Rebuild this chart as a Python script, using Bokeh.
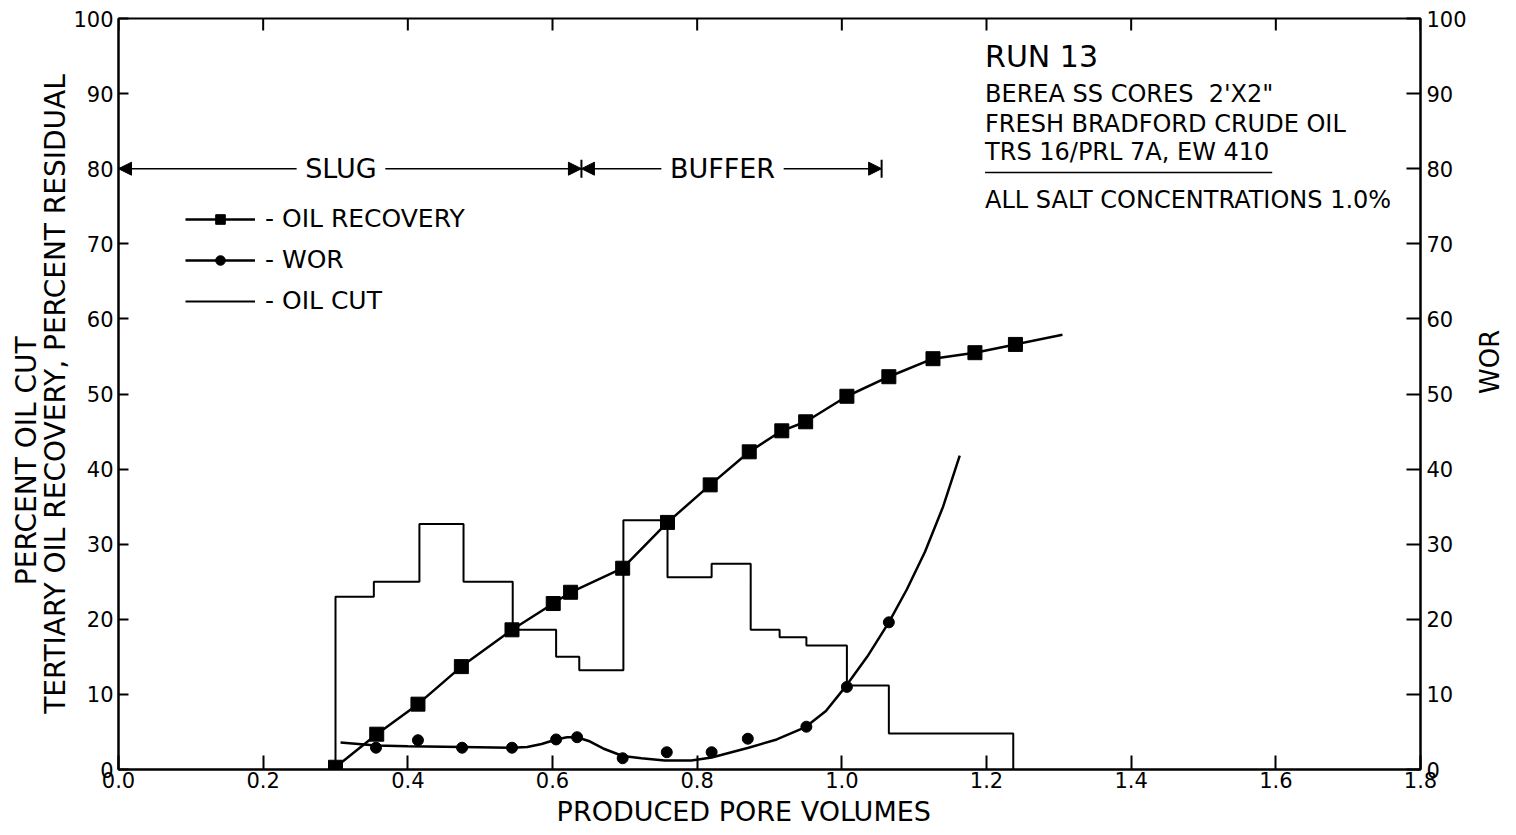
import math
from bokeh.plotting import figure
from bokeh.models import (Range1d, LinearAxis, FixedTicker, Label, Arrow, NormalHead,
                          Legend, LegendItem)
from bokeh.embed import file_html
from bokeh.resources import INLINE

# ---------------- data ----------------
x_ticks = [0.0, 0.2, 0.4, 0.6, 0.8, 1.0, 1.2, 1.4, 1.6, 1.8]
x_tick_labels = ["0.0", "0.2", "0.4", "0.6", "0.8", "1.0", "1.2", "1.4", "1.6", "1.8"]
y_ticks = [0, 10, 20, 30, 40, 50, 60, 70, 80, 90, 100]

# Oil recovery (left axis, % residual)
rec_x = [0.300, 0.357, 0.414, 0.474, 0.544, 0.601, 0.625, 0.697, 0.759, 0.818,
         0.872, 0.917, 0.950, 1.007, 1.065, 1.126, 1.184, 1.240]
rec_y = [0.3, 4.7, 8.7, 13.7, 18.6, 22.1, 23.6, 26.8, 32.9, 37.9,
         42.3, 45.1, 46.3, 49.7, 52.3, 54.7, 55.5, 56.6]
rec_curve_end_x = [1.305]
rec_curve_end_y = [57.9]

# WOR (right axis)
wor_x = [0.356, 0.414, 0.475, 0.544, 0.605, 0.634, 0.697, 0.758, 0.820, 0.870,
         0.951, 1.007, 1.065]
wor_y = [2.9, 3.9, 2.9, 2.9, 4.0, 4.3, 1.5, 2.3, 2.3, 4.1, 5.7, 11.0, 19.6]
wor_curve_x = [0.307, 0.356, 0.400, 0.475, 0.544, 0.565, 0.585, 0.605, 0.620, 0.634,
               0.650, 0.670, 0.697, 0.723, 0.755, 0.792, 0.820, 0.871, 0.910, 0.949,
               0.978, 1.004, 1.035, 1.065, 1.090, 1.115, 1.140, 1.163]
wor_curve_y = [3.6, 3.2, 3.1, 3.0, 2.9, 3.0, 3.4, 4.0, 4.3, 4.3,
               3.8, 2.8, 1.8, 1.5, 1.2, 1.2, 1.6, 2.9, 4.0, 5.6,
               7.8, 10.9, 15.0, 19.6, 24.0, 29.0, 35.0, 41.8]

# Oil cut (step histogram, left axis)
cut_edges = [0.300, 0.353, 0.416, 0.477, 0.545, 0.605, 0.637, 0.698, 0.759, 0.820,
             0.874, 0.914, 0.951, 1.007, 1.065, 1.237]
cut_values = [23.0, 25.0, 32.7, 25.0, 18.6, 15.0, 13.2, 33.2, 25.6, 27.4,
              18.6, 17.6, 16.5, 11.2, 4.8]

# Injection phases
phase_names = ["SLUG", "BUFFER"]
phase_start = [0.0, 0.64]
phase_end = [0.64, 1.055]
phase_level = 80

info_title = "RUN 13"
info_lines = ["BEREA SS CORES  2'X2\"", "FRESH BRADFORD CRUDE OIL",
              "TRS 16/PRL 7A, EW 410", "ALL SALT CONCENTRATIONS 1.0%"]

FONT = "DejaVu Sans"
NB = "\u00a0"

# ---------------- figure ----------------
p = figure(frame_width=1302, frame_height=751, x_range=Range1d(0, 1.8), y_range=Range1d(0, 100),
           output_backend="svg", toolbar_location=None,
           min_border_left=118, min_border_right=80, min_border_top=18, min_border_bottom=40)
p.extra_y_ranges = {"wor": Range1d(0, 100)}
p.grid.visible = False
p.outline_line_color = "black"
p.outline_line_width = 2
p.background_fill_color = "white"
p.border_fill_color = "white"

def style_axis(ax, tick_in):
    ax.major_tick_in = tick_in
    ax.major_tick_out = 0
    ax.minor_tick_line_color = None
    ax.axis_line_width = 2
    ax.major_tick_line_width = 2
    ax.axis_line_color = "black"
    ax.major_tick_line_color = "black"
    ax.major_label_text_font = FONT
    ax.major_label_text_font_size = "21px"
    ax.major_label_text_color = "black"
    ax.axis_label_text_font = FONT
    ax.axis_label_text_font_size = "28px"
    ax.axis_label_text_font_style = "normal"
    ax.axis_label_text_color = "black"

xa = p.xaxis[0]
style_axis(xa, 14)
xa.ticker = FixedTicker(ticks=x_ticks)
xa.major_label_overrides = {t: l for t, l in zip(x_ticks, x_tick_labels)}
xa.major_label_standoff = 2
xa.axis_label = "PRODUCED PORE VOLUMES" + NB * 6
xa.axis_label_text_font_size = "27px"
xa.axis_label_standoff = 5

ya = p.yaxis[0]
style_axis(ya, 10)
ya.ticker = FixedTicker(ticks=y_ticks)
ya.major_label_standoff = 5
ya.axis_label = "TERTIARY OIL RECOVERY, PERCENT RESIDUAL"
ya.axis_label_standoff = -2

outer = LinearAxis(ticker=FixedTicker(ticks=[]), axis_label="PERCENT OIL CUT" + NB * 15)
style_axis(outer, 0)
outer.axis_line_color = None
outer.major_tick_line_color = None
outer.axis_label_standoff = -6
p.add_layout(outer, "left")

ra = LinearAxis(y_range_name="wor", ticker=FixedTicker(ticks=y_ticks), axis_label="WOR")
style_axis(ra, 14)
ra.major_label_standoff = 6
ra.axis_label_standoff = 20
ra.axis_label_text_font_size = "26px"
ra.axis_label_orientation = math.pi / 2
p.add_layout(ra, "right")

# top border ticks (pointing inward)
p.segment(x0=x_ticks, y0=[100.0] * len(x_ticks), x1=x_ticks, y1=[98.4] * len(x_ticks),
          line_color="black", line_width=2)

# ---------------- oil cut step line ----------------
step_x, step_y = [cut_edges[0]], [0.0]
for i, v in enumerate(cut_values):
    step_x += [cut_edges[i], cut_edges[i + 1]]
    step_y += [v, v]
step_x.append(cut_edges[-1])
step_y.append(0.0)
cut_line = p.line(step_x, step_y, line_color="black", line_width=2)

# ---------------- oil recovery ----------------
rec_line = p.line(rec_x + rec_curve_end_x, rec_y + rec_curve_end_y,
                  line_color="black", line_width=2.5)
rec_pts = p.scatter(rec_x, rec_y, marker="square", size=14,
                    fill_color="black", line_color="black")

# ---------------- WOR ----------------
wor_line = p.line(wor_curve_x, wor_curve_y, line_color="black", line_width=2.5,
                  y_range_name="wor")
wor_pts = p.scatter(wor_x, wor_y, marker="circle", size=11,
                    fill_color="black", line_color="black", y_range_name="wor")

# ---------------- phase arrows ----------------
for name, s, e in zip(phase_names, phase_start, phase_end):
    mid = (s + e) / 2
    for tgt in (s, e):
        p.add_layout(Arrow(end=NormalHead(size=13, fill_color="black", line_color="black"),
                           x_start=mid, y_start=phase_level, x_end=tgt, y_end=phase_level,
                           line_width=1.5, line_color="black"))
    p.add_layout(Label(x=mid, y=phase_level, x_offset=-9, text=NB + name + NB,
                       text_align="center", text_baseline="middle", text_font=FONT,
                       text_font_size="27px", background_fill_color="white",
                       text_color="black"))
p.segment(x0=phase_end, y0=[phase_level - 1.2] * len(phase_end),
          x1=phase_end, y1=[phase_level + 1.2] * len(phase_end),
          line_color="black", line_width=2)

# ---------------- info block ----------------
p.add_layout(Label(x=1.198, y=94.9, text=info_title, text_font=FONT,
                   text_font_size="30px", text_color="black", text_baseline="middle"))
for txt, yy in zip(info_lines, [89.9, 85.9, 82.2, 75.8]):
    p.add_layout(Label(x=1.198, y=yy, text=txt.replace("  ", NB + NB), text_font=FONT,
                       text_font_size="24px", text_color="black", text_baseline="middle"))
p.segment(x0=[1.198], y0=[79.5], x1=[1.595], y1=[79.5], line_color="black", line_width=1.5)

# ---------------- legend ----------------
legend = Legend(items=[LegendItem(label="- OIL RECOVERY", renderers=[rec_line, rec_pts]),
                       LegendItem(label="- WOR", renderers=[wor_line, wor_pts]),
                       LegendItem(label="- OIL CUT", renderers=[cut_line])],
                location=(67, 454), orientation="vertical", glyph_width=70, glyph_height=24,
                spacing=12, padding=0, margin=0, label_standoff=10, label_height=24,
                label_text_font=FONT, label_text_font_size="25px", label_text_color="black",
                border_line_color=None, background_fill_alpha=0)
p.add_layout(legend)

open("out.html", "w").write(file_html(p, INLINE))
